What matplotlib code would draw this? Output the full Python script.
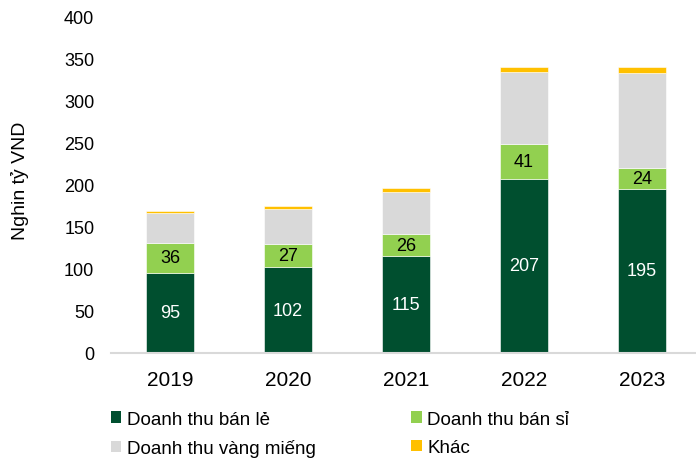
import matplotlib
matplotlib.use("Agg")
import matplotlib.pyplot as plt
import numpy as np
from matplotlib.patches import Patch

plt.rcParams['font.family'] = ['Liberation Sans', 'DejaVu Sans']

years = ["2019", "2020", "2021", "2022", "2023"]
retail = [95, 102, 115, 207, 195]
wholesale = [36, 27, 26, 41, 24]
gold_bars = [35, 42, 50, 86, 113]
other = [3, 4, 5, 5, 7]
series_names = ["Doanh thu bán lẻ", "Doanh thu bán sỉ", "Doanh thu vàng miếng", "Khác"]
colors = ["#004F2F", "#92D050", "#D9D9D9", "#FFC000"]

fig = plt.figure(figsize=(6.96, 4.60), dpi=100)
ax = fig.add_axes([111/696, 1 - 354/460, 1 - 111/696, 337/460])

x = np.arange(len(years))
w = 0.41
bottom = np.zeros(len(years))
for vals, col in zip([retail, wholesale, gold_bars, other], colors):
    ax.bar(x, vals, w, bottom=bottom, color=col, edgecolor="white", linewidth=0.4, zorder=2)
    bottom += np.array(vals)

for i in range(len(years)):
    ax.text(x[i], retail[i] / 2, str(retail[i]), ha="center", va="center",
            color="white", fontsize=13)
    ax.text(x[i], retail[i] + wholesale[i] / 2, str(wholesale[i]), ha="center",
            va="center", color="black", fontsize=13)

ax.set_ylim(0, 400)
ax.set_xlim(-0.5, 4.46)
ax.set_yticks(range(0, 401, 50))
ax.set_xticks(x)
ax.set_xticklabels(years, fontsize=15)
ax.tick_params(axis="y", labelsize=13, length=0, pad=12, colors="#000000")
ax.tick_params(axis="x", length=0, pad=12)
for s in ["top", "right", "left"]:
    ax.spines[s].set_visible(False)
ax.spines["bottom"].set_color("#D9D9D9")
ax.spines["bottom"].set_linewidth(1.5)
ax.set_ylabel("Nghin tỷ VND", fontsize=14)
ax.yaxis.set_label_coords(-0.14, 0.513)

handles = [Patch(facecolor=c, edgecolor="none") for c in colors]
fig.legend([handles[i] for i in [0, 2, 1, 3]], [series_names[i] for i in [0, 2, 1, 3]],
           ncol=2, loc="lower left", bbox_to_anchor=(94/696, -0.033), frameon=False,
           fontsize=13.5, handlelength=0.55, handleheight=0.55, handletextpad=0.3,
           columnspacing=5.1, labelspacing=0.62)

fig.savefig("out.png", dpi=100)
